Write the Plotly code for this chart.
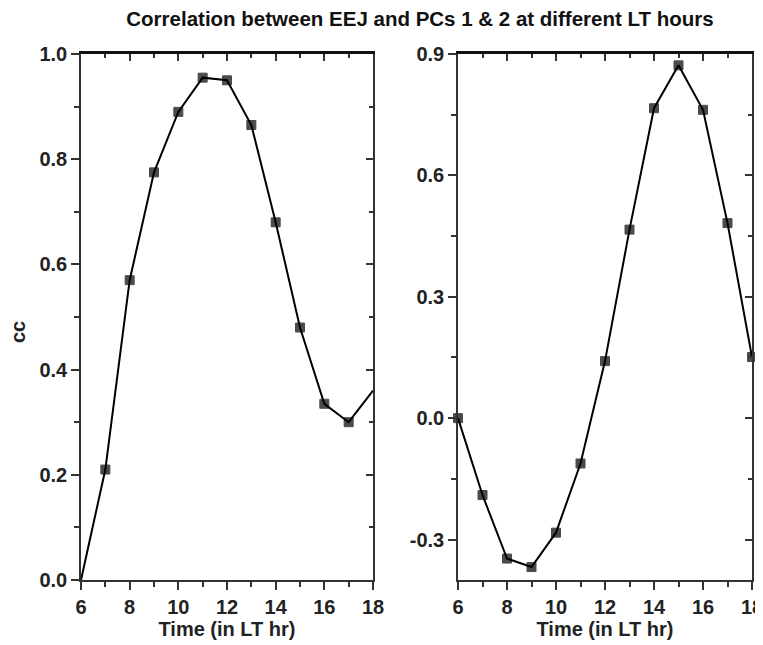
import plotly.graph_objects as go

hours = [6, 7, 8, 9, 10, 11, 12, 13, 14, 15, 16, 17, 18]
cc_pc1 = [0.0, 0.21, 0.57, 0.775, 0.89, 0.955, 0.95, 0.865, 0.68, 0.48, 0.335, 0.30, 0.36]
cc_pc2 = [0.0, -0.19, -0.347, -0.368, -0.283, -0.112, 0.141, 0.466, 0.766, 0.872, 0.762, 0.482, 0.151]
x_ticks = [6, 8, 10, 12, 14, 16, 18]
y1_ticks = [0.0, 0.2, 0.4, 0.6, 0.8, 1.0]
y1_text = ["0.0", "0.2", "0.4", "0.6", "0.8", "1.0"]
y2_ticks = [-0.3, 0.0, 0.3, 0.6, 0.9]
y2_text = ["-0.3", "0.0", "0.3", "0.6", "0.9"]

FONT = "Liberation Sans, Arial, sans-serif"
LC = "#333333"
OFF = 8  # page body margin
W, H = 763, 645 - OFF


def fx(px):
    return (px - OFF) / W


def fy(py):
    return 1 - (py - OFF) / H


dom_y = [fy(580), fy(54)]
dom_x1 = [fx(81), fx(373)]
dom_x2 = [fx(458), fx(752)]

fig = go.Figure()

sizes1 = [0] + [9] * (len(hours) - 2) + [0]
sizes2 = [9] * len(hours)

fig.add_trace(go.Scatter(x=hours, y=cc_pc1, mode="lines+markers", xaxis="x", yaxis="y",
                         line=dict(color="black", width=2),
                         marker=dict(symbol="square", size=sizes1, color="black",
                                     line=dict(width=1, color="black")),
                         showlegend=False, cliponaxis=False))
fig.add_trace(go.Scatter(x=hours, y=cc_pc2, mode="lines+markers", xaxis="x2", yaxis="y2",
                         line=dict(color="black", width=2),
                         marker=dict(symbol="square", size=sizes2, color="black",
                                     line=dict(width=1, color="black")),
                         showlegend=False, cliponaxis=False))
# invisible traces to activate mirror axes (top/right inside ticks)
fig.add_trace(go.Scatter(x=hours, y=cc_pc1, mode="markers", xaxis="x3", yaxis="y3",
                         marker=dict(opacity=0), showlegend=False, hoverinfo="skip"))
fig.add_trace(go.Scatter(x=hours, y=cc_pc2, mode="markers", xaxis="x4", yaxis="y4",
                         marker=dict(opacity=0), showlegend=False, hoverinfo="skip"))

tickfont = dict(family=FONT, size=20, color="#222222", weight="bold")
titlefont = dict(family=FONT, size=20, color="#222222", weight="bold")


def xaxis(domain, anchor):
    return dict(domain=domain, anchor=anchor, range=[6, 18], tickvals=x_ticks,
                ticks="outside", ticklen=8, tickwidth=1.5, tickcolor=LC,
                minor=dict(dtick=1, ticks="outside", ticklen=5, tickwidth=1.5, tickcolor=LC),
                showline=True, linecolor=LC, linewidth=1.5, showgrid=False, zeroline=False,
                tickfont=tickfont, automargin=False,
                title=dict(text="Time (in LT hr)", font=titlefont, standoff=5))


def yaxis(domain, anchor, rng, vals, text, dminor):
    return dict(domain=domain, anchor=anchor, range=rng, tickvals=vals, ticktext=text,
                ticks="outside", ticklen=8, tickwidth=1.5, tickcolor=LC,
                minor=dict(tick0=0, dtick=dminor, ticks="outside", ticklen=5, tickwidth=1.5,
                           tickcolor=LC),
                showline=True, linecolor=LC, linewidth=1.5, showgrid=False, zeroline=False,
                tickfont=tickfont, automargin=False)


def mirror_x(domain, overlay, anchor):
    return dict(domain=domain, overlaying=overlay, anchor=anchor, side="top",
                range=[6, 18], tickvals=x_ticks, ticks="inside", ticklen=7, tickwidth=1.5,
                tickcolor=LC, showticklabels=False,
                minor=dict(dtick=1, ticks="inside", ticklen=4, tickwidth=1.5, tickcolor=LC),
                showline=True, linecolor="#111111", linewidth=3, showgrid=False,
                zeroline=False, automargin=False)


def mirror_y(domain, overlay, anchor, rng, vals, dminor):
    return dict(domain=domain, overlaying=overlay, anchor=anchor, side="right",
                range=rng, tickvals=vals, ticks="inside", ticklen=7, tickwidth=1.5,
                tickcolor=LC, showticklabels=False,
                minor=dict(tick0=0, dtick=dminor, ticks="inside", ticklen=4, tickwidth=1.5,
                           tickcolor=LC),
                showline=True, linecolor=LC, linewidth=1.5, showgrid=False,
                zeroline=False, automargin=False)


fig.update_layout(
    width=W, height=H,
    margin=dict(l=0, r=0, t=0, b=0),
    paper_bgcolor="white", plot_bgcolor="white",
    title=dict(text="Correlation between EEJ and PCs 1 & 2 at different LT hours",
               x=fx(420), xanchor="center", y=fy(19), yanchor="middle",
               font=dict(family=FONT, size=20.5, color="#111111", weight="bold")),
    xaxis=xaxis(dom_x1, "y"),
    xaxis2=xaxis(dom_x2, "y2"),
    yaxis=yaxis(dom_y, "x", [0, 1], y1_ticks, y1_text, 0.1),
    yaxis2=yaxis(dom_y, "x2", [-0.4, 0.9], y2_ticks, y2_text, 0.15),
    xaxis3=mirror_x(dom_x1, "x", "y"),
    yaxis3=mirror_y(dom_y, "y", "x", [0, 1], y1_ticks, 0.1),
    xaxis4=mirror_x(dom_x2, "x2", "y2"),
    yaxis4=mirror_y(dom_y, "y2", "x2", [-0.4, 0.9], y2_ticks, 0.15),
    annotations=[dict(text="cc", x=fx(18), y=fy(332), xref="paper", yref="paper",
                      showarrow=False, textangle=-90, font=titlefont,
                      xanchor="center", yanchor="middle")],
)

fig.write_html("out.html")
